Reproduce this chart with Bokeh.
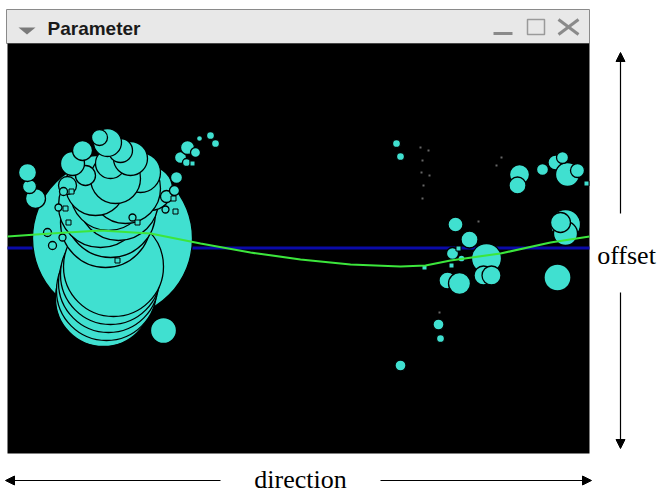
from bokeh.plotting import figure
from bokeh.models import Range1d, Arrow, NormalHead, ColumnDataSource
from bokeh.core.properties import value
from bokeh.embed import file_html
from bokeh.resources import INLINE

# ---- data (direction / offset units) ----
circle_direction = [105, 156, 96, 99, 101, 103, 106,
                    28, 22, 20,
                    98, 103, 93, 111, 101, 143, 118, 88, 133, 108, 60, 78, 65, 103, 123, 75, 113, 100, 92,
                    56, 51, 40, 55, 45, 125, 158,
                    159, 167, 169, 173, 179, 180, 188, 192, 203, 208,
                    389, 393, 512, 510, 535, 548, 560, 555, 570, 558, 558, 553, 550,
                    448, 462, 445, 479, 440, 452, 476, 484, 454, 431, 433, 393]
circle_offset = [215, 123, 155, 163, 171, 179, 187,
                 255, 267, 281,
                 231, 241, 248, 253, 261, 265, 265, 268, 281, 275, 268, 278, 290, 290, 295, 303, 303, 311, 316,
                 262, 246, 221, 216, 208, 236, 244,
                 257, 263, 276, 296, 291, 306, 301, 315, 318, 310,
                 310, 297, 279, 268, 284, 291, 279, 296, 283, 229, 220, 231, 176,
                 229, 214, 200, 195, 173, 170, 178, 178, 195, 129, 115, 88]
circle_size = [80, 13, 48, 50, 50, 50, 50,
               10, 7, 9,
               45, 45, 42, 40, 38, 22, 35, 30, 20, 25, 9, 10, 12, 15, 17, 10, 12, 14, 8,
               4, 3.5, 4, 3.5, 4, 3.5, 3.5,
               6, 5, 6, 6, 4, 7, 5, 3, 4, 4,
               4, 4, 10, 8.5, 6, 7.5, 12, 6, 7, 15, 12, 10, 13.5,
               7.5, 8.5, 6, 15, 8.5, 11, 9.5, 9.5, 3.5, 5.5, 4, 5.5]

square_direction = [58, 64, 61, 130, 110, 185, 166, 168, 579, 451, 444, 417]
square_offset = [245, 262, 231, 231, 193, 290, 255, 242, 270, 205, 188, 186]

dot_direction = [413, 415, 414, 416, 415, 421, 422, 494, 489, 471, 432]
dot_offset = [306, 293, 281, 268, 255, 303, 278, 296, 288, 232, 141]

curve_direction = [0, 43, 93, 143, 193, 243, 293, 343, 393, 418, 443, 493, 543, 582]
curve_offset = [217, 220, 223, 220, 210, 201, 194, 189, 187, 188, 193, 200, 211, 217]

baseline_direction = [0, 582]
baseline_offset = [205.5, 205.5]

window_title = "Parameter"
x_label = "direction"
y_label = "offset"

# ---- figure ----
p = figure(width=662, height=494, x_range=Range1d(-7, 655), y_range=Range1d(-41, 453),
           output_backend="svg", toolbar_location=None, min_border=0,
           x_axis_type=None, y_axis_type=None)
p.grid.visible = False
p.outline_line_color = None
p.background_fill_color = "white"
p.border_fill_color = "white"

# window chrome
p.quad(left=[-1], right=[582], bottom=[410], top=[444], fill_color="#e8e8e8",
       line_color="#8a8a8a", line_width=1)
p.quad(left=[0], right=[582], bottom=[0], top=[410], fill_color="black", line_color=None)
p.patch([11, 28, 19.5], [426, 426, 419], fill_color="#7a7a7a", line_color=None)
p.text(x=[40], y=[425], text=[window_title], text_font=value("Liberation Sans"),
       text_font_style="bold", text_font_size="19px", text_baseline="middle",
       text_align="left", text_color="#1a1a1a")
p.line([486, 505], [420, 420], line_width=3, color="#8a8a8a")
p.quad(left=[520], right=[537], bottom=[419], top=[434], fill_color=None,
       line_color="#9a9a9a", line_width=1.5)
p.segment(x0=[551, 551], y0=[434, 419], x1=[571, 571], y1=[419, 434],
          line_width=3, color="#8a8a8a")

# data
p.line(baseline_direction, baseline_offset, line_width=3, color="#0a0aa8")
src = ColumnDataSource(dict(d=circle_direction, o=circle_offset, r=circle_size))
p.circle(x="d", y="o", radius="r", source=src, fill_color="#40e0d0",
         line_color="black", line_width=1.3)
p.scatter(square_direction, square_offset, marker="square", size=5,
          fill_color="#40e0d0", line_color="black", line_width=1)
p.scatter(dot_direction, dot_offset, marker="square", size=2, fill_color="#666666",
          line_color=None)
p.line(curve_direction, curve_offset, line_width=2.2, color="#3ce63c")

# axis arrows and labels
for xs, ys, xe, ye in [(213, -27, -2, -27), (373, -27, 584, -27),
                       (613, 240, 613, 401), (613, 161, 613, 5)]:
    p.add_layout(Arrow(end=NormalHead(size=9, fill_color="black", line_color="black"),
                       x_start=xs, y_start=ys, x_end=xe, y_end=ye,
                       line_width=1.2, line_color="black"))
p.text(x=[293], y=[-26], text=[x_label], text_font=value("Liberation Serif"),
       text_font_size="26px", text_baseline="middle", text_align="center",
       text_color="black")
p.text(x=[619], y=[198], text=[y_label], text_font=value("Liberation Serif"),
       text_font_size="26px", text_baseline="middle", text_align="center",
       text_color="black")

open("out.html", "w").write(file_html(p, INLINE))
